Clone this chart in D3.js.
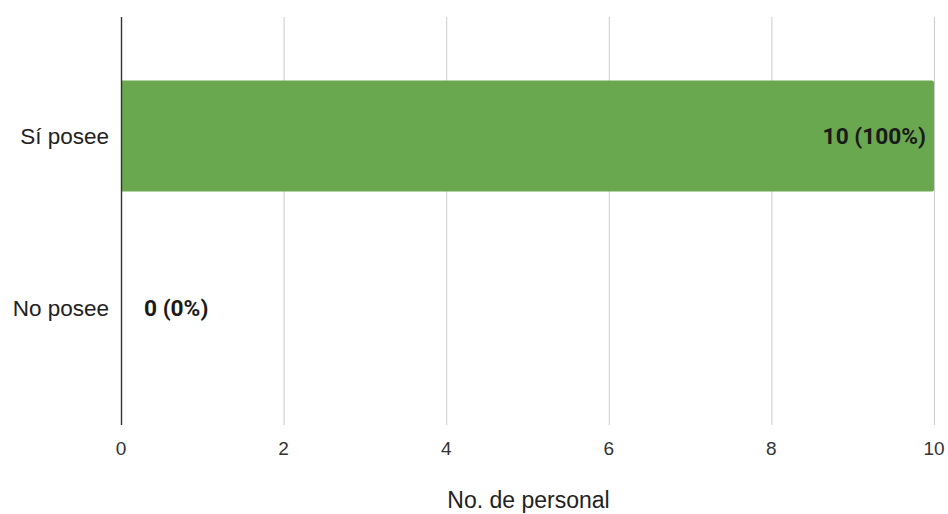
<!DOCTYPE html>
<html>
<head>
<meta charset="utf-8">
<script src="https://cdn.jsdelivr.net/npm/d3@7"></script>
<style>
  html, body { margin: 0; padding: 0; background: #fff; }
  svg { display: block; font-family: "Liberation Sans", Arial, sans-serif; }
</style>
</head>
<body>
<svg id="chart" width="948" height="514"></svg>
<script>
// Respuestas por categoría
const categories = ["Sí posee", "No posee"];
const counts = [10, 0];
const percents = ["100%", "0%"];
const xTicks = [0, 2, 4, 6, 8, 10];
const xTitle = "No. de personal";

const svg = d3.select("#chart");
const plotTop = 17, plotBottom = 425;
const x = d3.scaleLinear().domain([0, 10]).range([121, 934]);
const y = d3.scaleBand().domain(categories).range([50, 394]).paddingInner(0.355).paddingOuter(0.1775);

// Líneas de cuadrícula verticales
svg.append("g").selectAll("line").data(xTicks.filter(t => t !== 0)).join("line")
  .attr("x1", d => x(d) + 0.5).attr("x2", d => x(d) + 0.5)
  .attr("y1", plotTop).attr("y2", plotBottom)
  .attr("stroke", "#cccccc").attr("stroke-width", 1);

// Barras
const data = categories.map((c, i) => ({ cat: c, v: counts[i], p: percents[i] }));
svg.append("g").selectAll("path").data(data.filter(d => d.v > 0)).join("path")
  .attr("d", d => {
    const x0 = x(0), x1 = x(d.v), y0 = y(d.cat), h = y.bandwidth(), r = 2;
    return `M${x0},${y0}H${x1 - r}Q${x1},${y0} ${x1},${y0 + r}V${y0 + h - r}Q${x1},${y0 + h} ${x1 - r},${y0 + h}H${x0}Z`;
  })
  .attr("fill", "#6aa84f");

// Eje en cero
svg.append("line")
  .attr("x1", x(0) + 0.5).attr("x2", x(0) + 0.5)
  .attr("y1", plotTop).attr("y2", plotBottom)
  .attr("stroke", "#333333").attr("stroke-width", 1.4);

// Etiquetas de categoría
svg.append("g").selectAll("text").data(categories).join("text")
  .attr("x", 109).attr("y", d => y(d) + y.bandwidth() / 2)
  .attr("text-anchor", "end").attr("dominant-baseline", "central")
  .attr("font-size", 22.5).attr("fill", "#222222")
  .text(d => d);

// Etiquetas de valor
svg.append("g").selectAll("text").data(data).join("text")
  .attr("x", d => d.v > 0 ? x(d.v) - 8 : x(d.v) + 23)
  .attr("y", d => y(d.cat) + y.bandwidth() / 2)
  .attr("text-anchor", d => d.v > 0 ? "end" : "start")
  .attr("dominant-baseline", "central")
  .style("font-family", "Roboto, sans-serif")
  .attr("font-size", 22.7).attr("font-weight", "bold").attr("fill", "#1a1a1a")
  .text(d => `${d.v} (${d.p})`);

// Etiquetas del eje X
svg.append("g").selectAll("text").data(xTicks).join("text")
  .attr("x", d => x(d)).attr("y", 448)
  .attr("text-anchor", "middle").attr("dominant-baseline", "central")
  .attr("font-size", 19).attr("fill", "#333333")
  .text(d => d);

// Título del eje X
svg.append("text")
  .attr("x", x(5) + 1).attr("y", 500)
  .attr("text-anchor", "middle").attr("dominant-baseline", "central")
  .attr("font-size", 23).attr("fill", "#222222")
  .text(xTitle);
</script>
</body>
</html>
